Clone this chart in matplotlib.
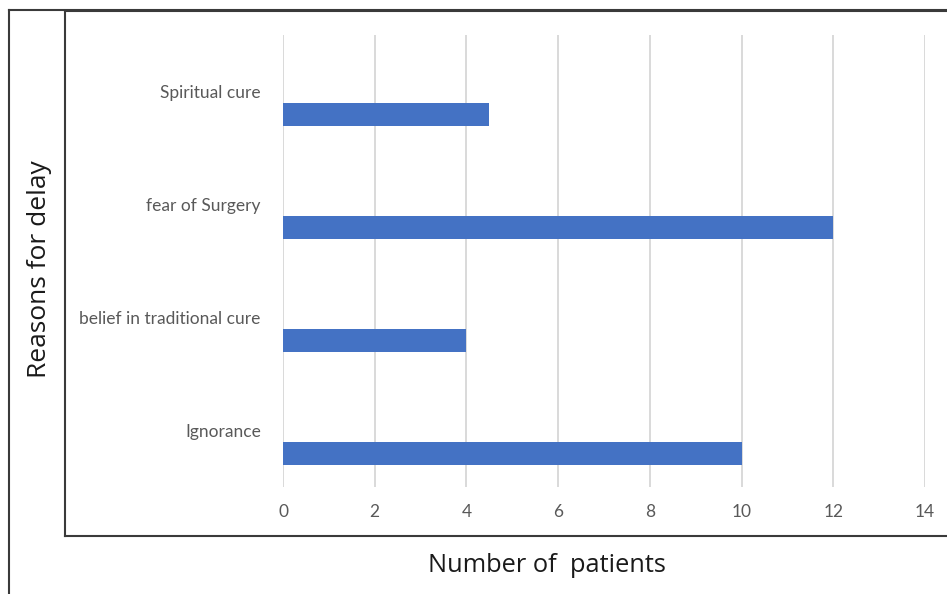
import matplotlib
matplotlib.use("Agg")
import matplotlib.pyplot as plt
from matplotlib.lines import Line2D

# Data
reasons = ["Spiritual cure", "fear of Surgery", "belief in traditional cure", "Ignorance"]
patients = [4.5, 12, 4, 10]
x_ticks = [0, 2, 4, 6, 8, 10, 12, 14]

W, H = 947, 594
fig = plt.figure(figsize=(W / 100, H / 100), dpi=100)

def fx(px):
    return px / W

def fy(py):
    return 1 - py / H

ax = fig.add_axes([fx(283), fy(487), fx(925) - fx(283), fy(35) - fy(487)])

positions = list(range(len(reasons)))
bar_offset = 0.205
bar_height = 0.2
ax.barh([p + bar_offset for p in positions], patients, height=bar_height,
        color="#4472C4", zorder=3)

ax.set_xlim(0, 14)
ax.set_ylim(len(reasons) - 0.5, -0.5)
ax.set_xticks(x_ticks)
ax.set_xticklabels([str(t) for t in x_ticks])
ax.set_yticks(positions)
ax.set_yticklabels(reasons)

ax.grid(axis="x", color="#d9d9d9", linewidth=1.4, zorder=0)
for s in ax.spines.values():
    s.set_visible(False)
ax.tick_params(axis="both", length=0, colors="#595959", labelsize=12.5)
ax.tick_params(axis="x", pad=12)
ax.tick_params(axis="y", pad=16)
for lbl in ax.get_xticklabels() + ax.get_yticklabels():
    lbl.set_fontfamily("Lato")

fig.text(fx(547), fy(565), "Number of  patients", ha="center", va="center",
         fontsize=18.3, family="Open Sans", color="#1a1a1a")
fig.text(fx(39), fy(269), "Reasons for delay", ha="center", va="center",
         rotation=90, fontsize=19, family="Open Sans", color="#1a1a1a")

# Frame lines
frame = "#3a3a3a"
lines = [
    ((9, 9), (10, 594)),      # outer left
    ((9, 947), (10, 10)),     # outer top
    ((65, 65), (11, 536)),    # inner left
    ((65, 947), (536, 536)),  # inner bottom
    ((65, 947), (11, 11)),    # inner top
]
for xs, ys in lines:
    fig.add_artist(Line2D([fx(x) for x in xs], [fy(y) for y in ys],
                          color=frame, linewidth=1.5))

fig.savefig("out.png", dpi=100, facecolor="white")
